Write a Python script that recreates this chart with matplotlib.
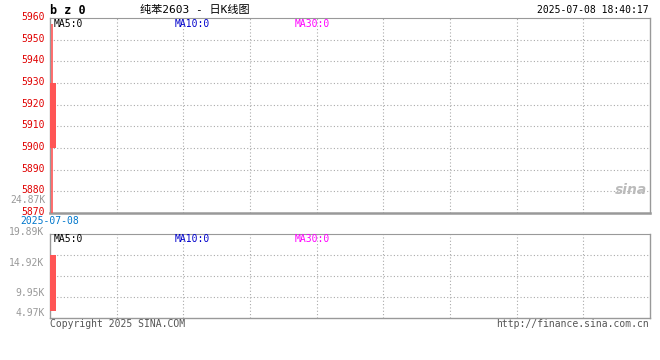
import matplotlib
matplotlib.use("Agg")
import matplotlib.pyplot as plt
import matplotlib.transforms as mtransforms
import numpy as np

plt.rcParams['font.family'] = ['DejaVu Sans Mono', 'Noto Sans CJK SC']

# ---- data ----
dates = ["2025-07-08"]
opens = [5900]
closes = [5930]
highs = [5957]
lows = [5870]
volumes = [14917]
vol_base = [1650]
price_ticks = [5870, 5880, 5890, 5900, 5910, 5920, 5930, 5940, 5950, 5960]
vol_ticks = [4972.5, 9945, 14917.5, 19890]
vol_tick_labels = ["4.97K", "9.95K", "14.92K", "19.89K"]
extra_vol_label = "24.87K"
title_code = "b z 0"
title_cn = "纯苯2603 - 日K线图"
timestamp = "2025-07-08 18:40:17"
ma_labels = ["MA5:0", "MA10:0", "MA30:0"]
ma_colors = ["#000000", "#0000cc", "#ff00ff"]

W, H = 660, 360
fig = plt.figure(figsize=(6.6, 3.6), dpi=100)
fig.patch.set_facecolor("white")

def px_rect(l, t, r, b):
    return [l / W, 1 - b / H, (r - l) / W, (b - t) / H]

up_color = "#ff5555"
grid_kw = dict(color="#aaaaaa", linestyle=(0, (1, 2)), linewidth=0.8)
spine_c = "#999999"
fs = 7

xmin, xmax = -0.42, 89.58
vgrid = np.linspace(xmin, xmax, 10)[1:-1]

# ---- main price panel ----
ax = fig.add_axes(px_rect(50, 18, 650, 213))
ax.set_xlim(xmin, xmax)
ax.set_ylim(price_ticks[0], price_ticks[-1])
for i, (o, c, h, l) in enumerate(zip(opens, closes, highs, lows)):
    ax.vlines(i - 0.08, l, h, color=up_color, linewidth=1.2, zorder=4)
    ax.bar(i, abs(c - o), bottom=min(o, c), width=0.85, color=up_color, zorder=3)
for y in price_ticks[1:-1]:
    ax.axhline(y, **grid_kw)
for x in vgrid:
    ax.axvline(x, **grid_kw)
ax.set_xticks([])
ax.set_yticks(price_ticks)
ax.set_yticklabels([str(t) for t in price_ticks], color="#e00000", fontsize=fs)
ax.tick_params(axis="y", length=0, pad=4)
for lab in ax.get_yticklabels():
    lab.set_transform(lab.get_transform() +
                      mtransforms.ScaledTranslation(0, 2 / 100, fig.dpi_scale_trans))
for s in ["left", "right"]:
    ax.spines[s].set_color(spine_c)
    ax.spines[s].set_linewidth(1.0)
ax.spines["bottom"].set_color(spine_c)
ax.spines["bottom"].set_linewidth(1.8)
ax.spines["top"].set_color(spine_c)
ax.spines["top"].set_linestyle((0, (1, 1)))

for lab, col, xp in zip(ma_labels, ma_colors, [54, 175, 295]):
    fig.text(xp / W, 1 - 24 / H, lab, color=col, fontsize=fs, va="center", ha="left")

ax.text(0.995, 0.12, "sina", transform=ax.transAxes, ha="right", va="center",
        fontsize=10, fontstyle="italic", fontweight="bold", color="#bbbbbb",
        family="DejaVu Sans")

# ---- volume panel ----
av = fig.add_axes(px_rect(50, 234.3, 650, 317.7))
av.set_xlim(xmin, xmax)
av.set_ylim(0, vol_ticks[-1])
for i, (v, b) in enumerate(zip(volumes, vol_base)):
    av.bar(i, v - b, bottom=b, width=0.85, color=up_color, zorder=3)
for y in vol_ticks[:-1]:
    av.axhline(y, **grid_kw)
for x in vgrid:
    av.axvline(x, **grid_kw)
av.set_xticks([])
av.set_yticks(vol_ticks)
av.set_yticklabels(vol_tick_labels, color="#999999", fontsize=fs)
av.tick_params(axis="y", length=0, pad=4)
offsets_px = [-15, -16, -7, 3]  # Sina's label placement quirk
for lab, dy in zip(av.get_yticklabels(), offsets_px):
    lab.set_transform(lab.get_transform() +
                      mtransforms.ScaledTranslation(0, dy / 100, fig.dpi_scale_trans))
for s in ["left", "right", "bottom"]:
    av.spines[s].set_color(spine_c)
    av.spines[s].set_linewidth(1.0)
av.spines["top"].set_color(spine_c)
av.spines["top"].set_linestyle((0, (1, 1)))

for lab, col, xp in zip(ma_labels, ma_colors, [54, 175, 295]):
    fig.text(xp / W, 1 - 239 / H, lab, color=col, fontsize=fs, va="center", ha="left")

# ---- texts ----
fig.text(46 / W, 1 - 200 / H, extra_vol_label, color="#999999", fontsize=fs,
         ha="right", va="center")
fig.text(20 / W, 1 - 221.5 / H, dates[0], color="#0077cc", fontsize=fs,
         ha="left", va="center")
fig.text(50 / W, 1 - 10 / H, title_code, color="#000000", fontsize=8.5,
         fontweight="bold", ha="left", va="center")
fig.text(140 / W, 1 - 10 / H, title_cn, color="#000000", fontsize=8,
         ha="left", va="center", family=["DejaVu Sans Mono", "Noto Sans CJK SC"])
fig.text(649 / W, 1 - 10 / H, timestamp, color="#000000", fontsize=fs,
         ha="right", va="center")
fig.text(50 / W, 1 - 324 / H, "Copyright 2025 SINA.COM", color="#555555",
         fontsize=fs, ha="left", va="center")
fig.text(649 / W, 1 - 324 / H, "http://finance.sina.com.cn", color="#555555",
         fontsize=fs, ha="right", va="center")

fig.savefig("out.png", dpi=100, facecolor="white")
